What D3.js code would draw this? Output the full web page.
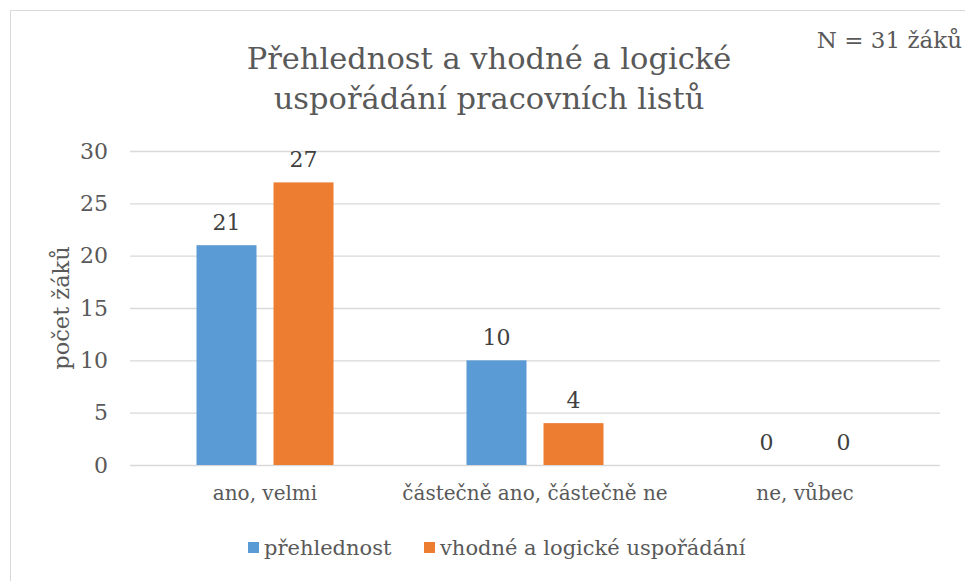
<!DOCTYPE html>
<html>
<head>
<meta charset="utf-8">
<script src="https://cdn.jsdelivr.net/npm/d3@7"></script>
<style>
  body { margin: 0; background: #fff; }
  svg { display: block; }
</style>
</head>
<body>
<svg id="chart"></svg>
<script>
var categories = ["ano, velmi", "částečně ano, částečně ne", "ne, vůbec"]
var seriesNames = ["přehlednost", "vhodné a logické uspořádání"]
var prehlednost = [21, 10, 0]
var usporadani = [27, 4, 0]
var yTicks = [0, 5, 10, 15, 20, 25, 30]
var colors = ["#5B9BD5", "#ED7D31"]

var data = categories.map(function (c, i) {
    return { cat: c, values: [prehlednost[i], usporadani[i]] }
})

var dimensions = {
    width: 965,
    height: 581,
    margin: { top: 151, right: 25, bottom: 116, left: 130 }
}
dimensions.boundedWidth = dimensions.width - dimensions.margin.left - dimensions.margin.right
dimensions.boundedHeight = dimensions.height - dimensions.margin.top - dimensions.margin.bottom

var font = "'DejaVu Serif', serif"
var textColor = "#595959"

var svg = d3.select("#chart")
    .attr("width", dimensions.width)
    .attr("height", dimensions.height)
    .style("font-family", font)

// chart frame
svg.append("rect")
    .attr("x", 10.5).attr("y", 10.5)
    .attr("width", 980).attr("height", 600)
    .attr("fill", "none")
    .attr("stroke", "#d9d9d9")

var xScale = d3.scaleBand()
    .domain(categories)
    .range([0, dimensions.boundedWidth])

var xInner = d3.scaleBand()
    .domain(d3.range(seriesNames.length))
    .range([xScale.bandwidth() / 2 - 68.5, xScale.bandwidth() / 2 + 68.5])
    .paddingInner(0.221)

var yScale = d3.scaleLinear()
    .domain([0, 30])
    .range([dimensions.boundedHeight, 0])

var bounds = svg.append("g")
    .attr("transform", "translate(" + dimensions.margin.left + "," + dimensions.margin.top + ")")

// gridlines + y labels
var yAxis = d3.axisLeft(yScale)
    .tickValues(yTicks)
    .tickSize(-dimensions.boundedWidth)
    .tickPadding(22)

var yAxisG = bounds.append("g").call(yAxis)
yAxisG.select(".domain").remove()
yAxisG.selectAll(".tick line").attr("stroke", "#d9d9d9").attr("stroke-width", 1.3)
yAxisG.selectAll(".tick text")
    .attr("fill", textColor)
    .style("font-family", font)
    .style("font-size", "22px")

// bars
var groups = bounds.selectAll(".group")
    .data(data)
    .enter()
    .append("g")
    .attr("transform", function (d) { return "translate(" + xScale(d.cat) + ",0)" })

groups.selectAll("rect")
    .data(function (d) { return d.values })
    .enter()
    .append("rect")
    .attr("x", function (d, i) { return xInner(i) })
    .attr("width", xInner.bandwidth())
    .attr("y", function (d) { return yScale(d) })
    .attr("height", function (d) { return dimensions.boundedHeight - yScale(d) })
    .attr("fill", function (d, i) { return colors[i] })

groups.selectAll(".lbl")
    .data(function (d) { return d.values })
    .enter()
    .append("text")
    .attr("class", "lbl")
    .attr("x", function (d, i) { return xInner(i) + xInner.bandwidth() / 2 })
    .attr("y", function (d) { return yScale(d) - 15 })
    .attr("text-anchor", "middle")
    .attr("fill", "#404040")
    .style("font-size", "22px")
    .text(function (d) { return d })

// x axis labels
var xAxis = d3.axisBottom(xScale).tickSize(0).tickPadding(21)
var xAxisG = bounds.append("g")
    .attr("transform", "translate(0," + dimensions.boundedHeight + ")")
    .call(xAxis)
xAxisG.select(".domain").remove()
xAxisG.selectAll(".tick text")
    .attr("fill", textColor)
    .style("font-family", font)
    .style("font-size", "20px")

// y axis title
svg.append("text")
    .attr("transform", "translate(69,308) rotate(-90)")
    .attr("text-anchor", "middle")
    .attr("fill", textColor)
    .style("font-size", "22.5px")
    .text("počet žáků")

// title
var title = svg.append("text")
    .attr("text-anchor", "middle")
    .attr("fill", textColor)
    .style("font-size", "30.5px")
title.append("tspan").attr("x", 489).attr("y", 69).text("Přehlednost a vhodné a logické")
title.append("tspan").attr("x", 489).attr("y", 109).text("uspořádání pracovních listů")

svg.append("text")
    .attr("x", 962).attr("y", 48)
    .attr("text-anchor", "end")
    .attr("fill", textColor)
    .style("font-size", "23px")
    .text("N = 31 žáků")

// legend
var legendX = [248, 424]
var legend = svg.selectAll(".legend")
    .data(seriesNames)
    .enter()
    .append("g")
    .attr("transform", function (d, i) { return "translate(" + legendX[i] + ",548)" })

legend.append("rect")
    .attr("x", 0).attr("y", -6)
    .attr("width", 11).attr("height", 11)
    .attr("fill", function (d, i) { return colors[i] })

legend.append("text")
    .attr("x", 16).attr("y", 7)
    .attr("fill", textColor)
    .style("font-size", "21px")
    .text(function (d) { return d })
</script>
</body>
</html>
